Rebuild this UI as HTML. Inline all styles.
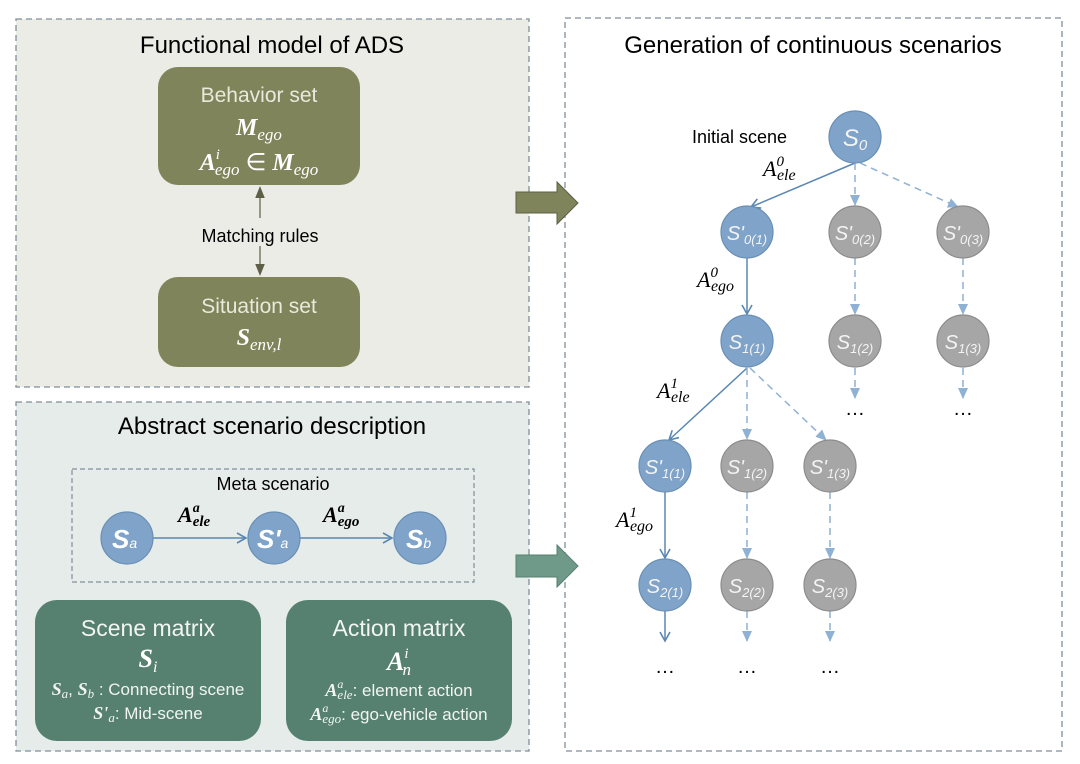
<!DOCTYPE html>
<html><head><meta charset="utf-8"><style>
html,body{margin:0;padding:0;background:#fff;}
svg{display:block;font-family:"Liberation Sans",sans-serif;}
.m{font-family:"Liberation Serif",serif;font-style:italic;}
</style></head><body>
<svg width="1080" height="764" viewBox="0 0 1080 764" xmlns="http://www.w3.org/2000/svg">
<defs>
<marker id="ao" markerWidth="10" markerHeight="10" refX="5" refY="5" orient="auto"><path d="M0,1 L10,5 L0,9z" fill="#5d6046"/></marker>
<marker id="ab" markerWidth="12" markerHeight="12" refX="10" refY="6" orient="auto" markerUnits="userSpaceOnUse"><path d="M1,1 L10,6 L1,11" fill="none" stroke="#5a87b3" stroke-width="1.6"/></marker>
<marker id="ad" markerWidth="12" markerHeight="12" refX="10" refY="6" orient="auto" markerUnits="userSpaceOnUse"><path d="M0,1 L11,6 L0,11z" fill="#8fb1d3"/></marker>
</defs>
<rect x="16" y="19" width="513" height="368" fill="#ecece6" stroke="#7f8e9a" stroke-width="1.3" stroke-dasharray="6,4"/>
<rect x="16" y="402" width="513" height="349" fill="#e6ecea" stroke="#7f8e9a" stroke-width="1.3" stroke-dasharray="6,4"/>
<rect x="565" y="18" width="497" height="733" fill="#fff" stroke="#7f8e9a" stroke-width="1.3" stroke-dasharray="6,4"/>
<text x="272" y="53" font-size="24" text-anchor="middle">Functional model of ADS</text>
<rect x="158" y="67" width="202" height="118" rx="20" fill="#7f845a"/>
<text x="259" y="102" font-size="21" fill="#e8eadc" text-anchor="middle">Behavior set</text>
<text x="259" y="135" font-size="24" fill="#fff" text-anchor="middle" class="m" font-weight="bold">M<tspan font-size="17" dy="5" font-weight="normal">ego</tspan></text>
<text x="259" y="170" font-size="24" fill="#fff" text-anchor="middle" class="m" font-weight="bold">A<tspan font-size="15" dy="-11" font-weight="normal">i</tspan><tspan font-size="17" dx="-5" dy="16" font-weight="normal">ego</tspan><tspan font-style="normal" dy="-5" font-weight="normal"> ∈ </tspan>M<tspan font-size="17" dy="5" font-weight="normal">ego</tspan></text>
<rect x="158" y="277" width="202" height="90" rx="20" fill="#7f845a"/>
<text x="259" y="313" font-size="21" fill="#e8eadc" text-anchor="middle">Situation set</text>
<text x="259" y="345" font-size="24" fill="#fff" text-anchor="middle" class="m" font-weight="bold">S<tspan font-size="17" dy="5" font-weight="normal">env,l</tspan></text>
<line x1="260" y1="218" x2="260" y2="192" stroke="#5d6046" stroke-width="1.2" marker-end="url(#ao)"/>
<line x1="260" y1="246" x2="260" y2="270" stroke="#5d6046" stroke-width="1.2" marker-end="url(#ao)"/>
<text x="260" y="242" font-size="18" text-anchor="middle">Matching rules</text>
<text x="272" y="434" font-size="24" text-anchor="middle">Abstract scenario description</text>
<rect x="72" y="469" width="402" height="113" fill="none" stroke="#7f8e9a" stroke-width="1.2" stroke-dasharray="5,3"/>
<text x="273" y="490" font-size="18" text-anchor="middle">Meta scenario</text>
<line x1="153" y1="538" x2="246" y2="538" stroke="#5a87b3" stroke-width="1.4" marker-end="url(#ab)"/>
<line x1="300" y1="538" x2="392" y2="538" stroke="#5a87b3" stroke-width="1.4" marker-end="url(#ab)"/>
<g stroke="#6a8fb5" stroke-width="1.2" fill="#7fa3c9">
<circle cx="127" cy="538" r="26"/><circle cx="274" cy="538" r="26"/><circle cx="420" cy="538" r="26"/></g>
<g fill="#fff" font-weight="bold" font-style="italic">
<text x="112" y="548" font-size="26">S<tspan font-size="14" font-weight="normal">a</tspan></text>
<text x="257" y="548" font-size="26">S'<tspan font-size="14" font-weight="normal">a</tspan></text>
<text x="406" y="548" font-size="26">S<tspan font-size="14" font-weight="normal">b</tspan></text></g>
<text x="178" y="522" font-size="22" class="m" font-weight="bold">A<tspan font-size="14" dy="-10">a</tspan><tspan font-size="15" dx="-7" dy="14">ele</tspan></text>
<text x="323" y="522" font-size="22" class="m" font-weight="bold">A<tspan font-size="14" dy="-10">a</tspan><tspan font-size="15" dx="-7" dy="14">ego</tspan></text>
<rect x="35" y="600" width="226" height="141" rx="22" fill="#56806f"/>
<rect x="286" y="600" width="226" height="141" rx="22" fill="#56806f"/>
<g fill="#f2f5f3" text-anchor="middle">
<text x="148" y="636" font-size="23">Scene matrix</text>
<text x="148" y="667" font-size="26" class="m" font-weight="bold" fill="#fff">S<tspan font-size="16" dy="5" font-weight="normal">i</tspan></text>
<text x="148" y="695" font-size="17"><tspan class="m" font-weight="bold" font-size="18">S</tspan><tspan class="m" font-size="13" dy="3">a</tspan><tspan dy="-3">, </tspan><tspan class="m" font-weight="bold" font-size="18">S</tspan><tspan class="m" font-size="13" dy="3">b</tspan><tspan dy="-3"> : Connecting scene</tspan></text>
<text x="148" y="719" font-size="17"><tspan class="m" font-weight="bold" font-size="18">S'</tspan><tspan class="m" font-size="13" dy="3">a</tspan><tspan dy="-3">: Mid-scene</tspan></text>
<text x="399" y="636" font-size="23">Action matrix</text>
<text x="399" y="670" font-size="26" class="m" font-weight="bold" fill="#fff">A<tspan font-size="15" dy="-12" font-weight="normal">i</tspan><tspan font-size="17" dx="-6" dy="17" font-weight="normal">n</tspan></text>
<text x="399" y="696" font-size="17"><tspan class="m" font-weight="bold" font-size="18">A</tspan><tspan class="m" font-size="12" dy="-8">a</tspan><tspan class="m" font-size="13" dx="-6" dy="11">ele</tspan><tspan dy="-3">: element action</tspan></text>
<text x="399" y="720" font-size="17"><tspan class="m" font-weight="bold" font-size="18">A</tspan><tspan class="m" font-size="12" dy="-8">a</tspan><tspan class="m" font-size="13" dx="-6" dy="11">ego</tspan><tspan dy="-3">: ego-vehicle action</tspan></text>
</g>
<path d="M516,192 L557,192 L557,182 L578,203 L557,224 L557,213 L516,213z" fill="#7f845a" stroke="#5d6046" stroke-width="1"/>
<path d="M516,555 L557,555 L557,545 L578,566 L557,587 L557,577 L516,577z" fill="#6f9a8a" stroke="#56806f" stroke-width="1"/>
<text x="813" y="53" font-size="24" text-anchor="middle">Generation of continuous scenarios</text>
<text x="692" y="143" font-size="18">Initial scene</text>
<g stroke-width="1.5" fill="none">
<line x1="855" y1="163" x2="751" y2="207" stroke="#5a87b3" marker-end="url(#ab)"/>
<line x1="747" y1="258" x2="747" y2="314" stroke="#5a87b3" marker-end="url(#ab)"/>
<line x1="747" y1="368" x2="669" y2="440" stroke="#5a87b3" marker-end="url(#ab)"/>
<line x1="665" y1="492" x2="665" y2="558" stroke="#5a87b3" marker-end="url(#ab)"/>
<line x1="665" y1="611" x2="665" y2="641" stroke="#5a87b3" marker-end="url(#ab)"/>
<g stroke="#8fb1d3" stroke-dasharray="7,5">
<line x1="855" y1="163" x2="855" y2="205" marker-end="url(#ad)"/>
<line x1="860" y1="163" x2="958" y2="207" marker-end="url(#ad)"/>
<line x1="855" y1="258" x2="855" y2="314" marker-end="url(#ad)"/>
<line x1="963" y1="258" x2="963" y2="314" marker-end="url(#ad)"/>
<line x1="855" y1="368" x2="855" y2="398" marker-end="url(#ad)"/>
<line x1="963" y1="368" x2="963" y2="398" marker-end="url(#ad)"/>
<line x1="747" y1="368" x2="747" y2="439" marker-end="url(#ad)"/>
<line x1="750" y1="368" x2="826" y2="440" marker-end="url(#ad)"/>
<line x1="747" y1="492" x2="747" y2="558" marker-end="url(#ad)"/>
<line x1="830" y1="492" x2="830" y2="558" marker-end="url(#ad)"/>
<line x1="747" y1="611" x2="747" y2="641" marker-end="url(#ad)"/>
<line x1="830" y1="611" x2="830" y2="641" marker-end="url(#ad)"/>
</g></g>
<g stroke-width="1.2">
<g fill="#7fa3c9" stroke="#6a8fb5">
<circle cx="855" cy="137" r="26"/><circle cx="747" cy="232" r="26"/><circle cx="747" cy="341" r="26"/><circle cx="665" cy="466" r="26"/><circle cx="665" cy="585" r="26"/></g>
<g fill="#a6a6a6" stroke="#8c8c8c">
<circle cx="855" cy="232" r="26"/><circle cx="963" cy="232" r="26"/><circle cx="855" cy="341" r="26"/><circle cx="963" cy="341" r="26"/>
<circle cx="747" cy="466" r="26"/><circle cx="830" cy="466" r="26"/><circle cx="747" cy="585" r="26"/><circle cx="830" cy="585" r="26"/></g></g>
<g fill="#f4f4f4" font-style="italic" text-anchor="middle">
<text x="855" y="146" font-size="24">S<tspan font-size="15" dy="4">0</tspan></text>
<text x="747" y="240" font-size="20">S'<tspan font-size="13" dy="4">0(1)</tspan></text>
<text x="855" y="240" font-size="20">S'<tspan font-size="13" dy="4">0(2)</tspan></text>
<text x="963" y="240" font-size="20">S'<tspan font-size="13" dy="4">0(3)</tspan></text>
<text x="747" y="349" font-size="20">S<tspan font-size="13" dy="4">1(1)</tspan></text>
<text x="855" y="349" font-size="20">S<tspan font-size="13" dy="4">1(2)</tspan></text>
<text x="963" y="349" font-size="20">S<tspan font-size="13" dy="4">1(3)</tspan></text>
<text x="665" y="474" font-size="20">S'<tspan font-size="13" dy="4">1(1)</tspan></text>
<text x="747" y="474" font-size="20">S'<tspan font-size="13" dy="4">1(2)</tspan></text>
<text x="830" y="474" font-size="20">S'<tspan font-size="13" dy="4">1(3)</tspan></text>
<text x="665" y="593" font-size="20">S<tspan font-size="13" dy="4">2(1)</tspan></text>
<text x="747" y="593" font-size="20">S<tspan font-size="13" dy="4">2(2)</tspan></text>
<text x="830" y="593" font-size="20">S<tspan font-size="13" dy="4">2(3)</tspan></text>
</g>
<g font-size="20" text-anchor="middle">
<text x="855" y="415">…</text><text x="963" y="415">…</text>
<text x="665" y="673">…</text><text x="747" y="673">…</text><text x="830" y="673">…</text></g>
<g class="m" font-size="22">
<text x="763" y="176">A<tspan font-size="15" dy="-10">0</tspan><tspan font-size="16" dx="-7" dy="14">ele</tspan></text>
<text x="697" y="287">A<tspan font-size="15" dy="-10">0</tspan><tspan font-size="16" dx="-7" dy="14">ego</tspan></text>
<text x="657" y="398">A<tspan font-size="15" dy="-10">1</tspan><tspan font-size="16" dx="-7" dy="14">ele</tspan></text>
<text x="616" y="527">A<tspan font-size="15" dy="-10">1</tspan><tspan font-size="16" dx="-7" dy="14">ego</tspan></text>
</g>
</svg>
</body></html>
